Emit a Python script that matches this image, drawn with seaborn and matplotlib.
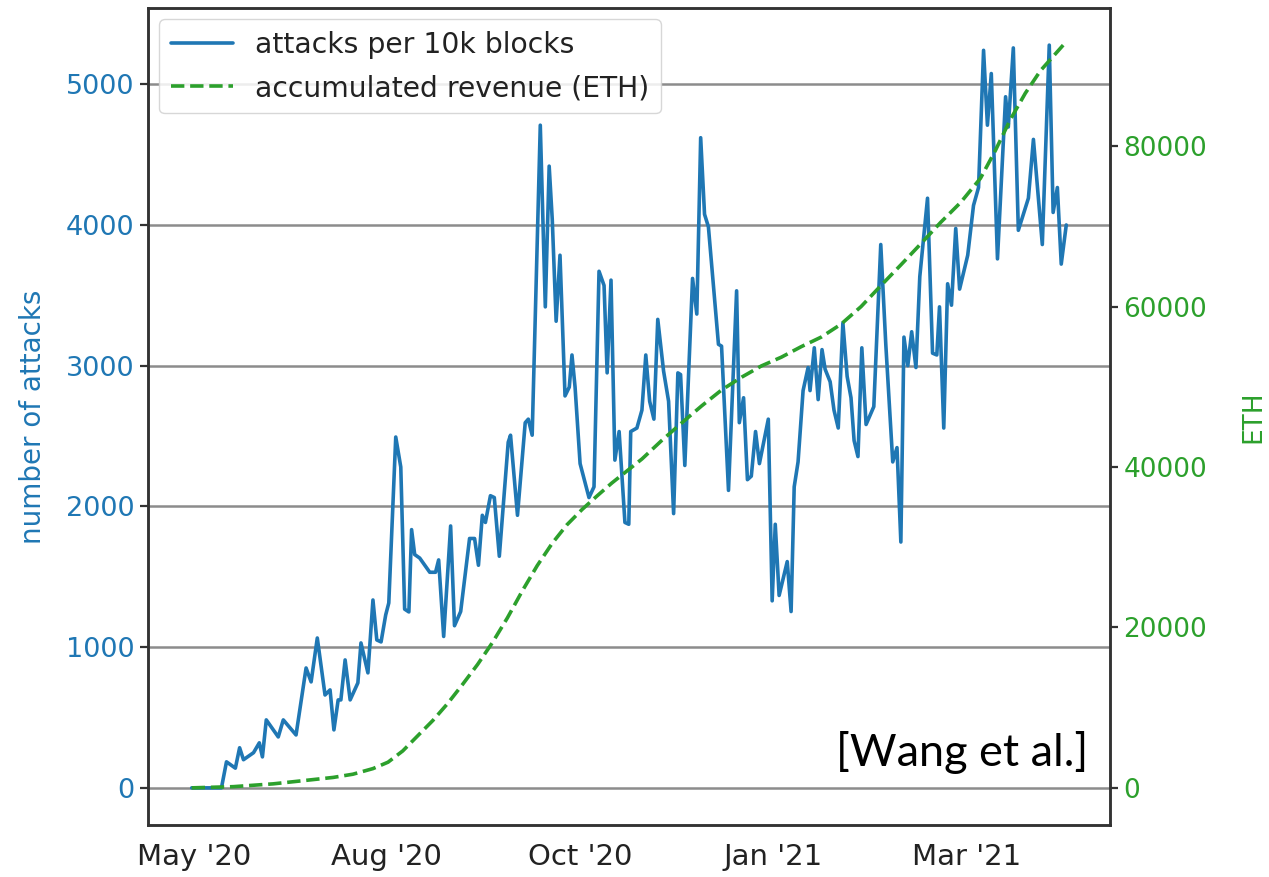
import numpy as np
import pandas as pd
import matplotlib
matplotlib.use("Agg")
import matplotlib.pyplot as plt
import seaborn as sns

# block height (millions) -> attacks per 10k blocks
attack_blocks = [
    9.995, 10.072, 10.085, 10.108, 10.119, 10.129, 10.155, 10.170, 10.178, 10.188,
    10.219, 10.232, 10.265, 10.291, 10.304, 10.320, 10.340, 10.353, 10.363, 10.374,
    10.381, 10.392, 10.405, 10.425, 10.433, 10.451, 10.464, 10.474, 10.485, 10.497,
    10.505, 10.523, 10.536, 10.546, 10.557, 10.564, 10.572, 10.585, 10.611, 10.626,
    10.634, 10.647, 10.665, 10.675, 10.691, 10.714, 10.727, 10.737, 10.747, 10.755,
    10.768, 10.778, 10.791, 10.814, 10.820, 10.838, 10.858, 10.866, 10.876, 10.897,
    10.910, 10.920, 10.928, 10.938, 10.948, 10.961, 10.972, 10.979, 10.987, 11.000,
    11.023, 11.036, 11.049, 11.062, 11.070, 11.080, 11.090, 11.101, 11.116, 11.126,
    11.131, 11.147, 11.160, 11.170, 11.180, 11.191, 11.201, 11.216, 11.229, 11.242,
    11.253, 11.260, 11.271, 11.291, 11.302, 11.312, 11.322, 11.332, 11.358, 11.366,
    11.384, 11.405, 11.412, 11.423, 11.433, 11.443, 11.454, 11.464, 11.487, 11.497,
    11.505, 11.515, 11.536, 11.546, 11.554, 11.564, 11.577, 11.590, 11.595, 11.606,
    11.616, 11.626, 11.634, 11.647, 11.657, 11.668, 11.680, 11.691, 11.701, 11.709,
    11.719, 11.729, 11.740, 11.760, 11.778, 11.791, 11.809, 11.820, 11.830, 11.838,
    11.848, 11.858, 11.869, 11.879, 11.899, 11.912, 11.923, 11.930, 11.941, 11.951,
    11.961, 11.972, 11.982, 12.003, 12.018, 12.031, 12.044, 12.054, 12.064, 12.080,
    12.101, 12.108, 12.121, 12.134, 12.160, 12.173, 12.196, 12.214, 12.224, 12.235,
    12.245, 12.258,
]
attacks = [
    0, 0, 185, 140, 285, 200, 250, 320, 220, 483,
    362, 483, 376, 852, 753, 1065, 660, 696, 412, 625,
    625, 909, 625, 746, 1030, 817, 1335, 1051, 1037, 1229,
    1314, 2493, 2280, 1270, 1250, 1835, 1658, 1633, 1532, 1532,
    1620, 1076, 1861, 1152, 1253, 1772, 1772, 1582, 1937, 1886,
    2076, 2063, 1646, 2456, 2506, 1937, 2595, 2620, 2506, 4709,
    3418, 4418, 4038, 3316, 3785, 2785, 2848, 3076, 2848, 2304,
    2063, 2139, 3671, 3570, 2949, 3608, 2329, 2532, 1886, 1873,
    2532, 2557, 2684, 3076, 2747, 2620, 3329, 2962, 2747, 1949,
    2949, 2937, 2291, 3620, 3367, 4620, 4076, 3987, 3152, 3139,
    2114, 3532, 2595, 2772, 2190, 2215, 2532, 2304, 2620, 1329,
    1873, 1367, 1608, 1253, 2139, 2316, 2823, 2987, 2823, 3127,
    2759, 3114, 2975, 2886, 2684, 2557, 3304, 2924, 2772, 2468,
    2354, 3127, 2582, 2709, 3861, 3152, 2316, 2418, 1747, 3203,
    3000, 3241, 2987, 3633, 4190, 3089, 3076, 3418, 2557, 3582,
    3430, 3975, 3544, 3785, 4139, 4266, 5241, 4709, 5076, 3759,
    4911, 4696, 5258, 3962, 4190, 4608, 3861, 5278, 4089, 4266,
    3722, 4000,
]

# accumulated revenue in ETH
revenue_blocks = [
    9.995, 10.103, 10.206, 10.284, 10.361, 10.412, 10.464, 10.503, 10.541, 10.580,
    10.619, 10.657, 10.696, 10.735, 10.773, 10.812, 10.851, 10.889, 10.928, 10.966,
    11.005, 11.044, 11.082, 11.121, 11.160, 11.211, 11.263, 11.314, 11.366, 11.418,
    11.469, 11.521, 11.572, 11.624, 11.675, 11.727, 11.778, 11.830, 11.881, 11.933,
    11.985, 12.036, 12.075, 12.113, 12.152, 12.191, 12.250,
]
revenue = [
    0, 150, 500, 900, 1300, 1700, 2400, 3200, 4600, 6500,
    8400, 10500, 12900, 15400, 18100, 21200, 24600, 27700, 30500, 32800,
    34700, 36400, 38000, 39500, 41000, 43300, 45500, 47600, 49600, 51200,
    52600, 53700, 55000, 56200, 57800, 60000, 62600, 65200, 67800, 70500,
    73000, 76000, 79500, 83300, 86600, 89400, 92600,
]

tick_blocks = [10.0, 10.5, 11.0, 11.5, 12.0]
tick_labels = ["May '20", "Aug '20", "Oct '20", "Jan '21", "Mar '21"]

blue = "#1f77b4"
green = "#2ca02c"

sns.set_theme(style="white")
plt.rcParams['font.family'] = ['DejaVu Sans']

df_a = pd.DataFrame({"block": attack_blocks, "attacks": attacks})
df_r = pd.DataFrame({"block": revenue_blocks, "revenue": revenue})

fig = plt.figure(figsize=(12.69, 8.77), dpi=100)
ax1 = fig.add_axes([0.1166, 0.0593, 0.7581, 0.9316])
sns.lineplot(data=df_a, x="block", y="attacks", ax=ax1, color=blue, lw=2.6)
ax1.set_axisbelow(True)
ax1.yaxis.grid(True, color="#8c8c8c", lw=1.8)

ax2 = ax1.twinx()
sns.lineplot(data=df_r, x="block", y="revenue", ax=ax2, color=green, lw=2.6, linestyle="--")

ax1.set_xticks(tick_blocks)
ax1.set_xticklabels(tick_labels)
ax1.set_xlabel("")
ax1.set_ylabel("number of attacks", color=blue, fontsize=20, labelpad=14)
ax2.set_ylabel("ETH", color=green, fontsize=19, labelpad=24)

ax1.tick_params(axis="x", length=0, pad=13, labelsize=21, labelcolor="#222222")
ax1.tick_params(axis="y", length=6, width=1.6, labelsize=19.5, labelcolor=blue, color="#333333")
ax2.tick_params(axis="y", length=6, width=1.6, labelsize=19, labelcolor=green, color="#333333")

for ax in (ax1, ax2):
    for sp in ax.spines.values():
        sp.set_color("#333333")
        sp.set_linewidth(1.8)

leg = ax2.legend([ax1.get_lines()[0], ax2.get_lines()[0]],
                 ["attacks per 10k blocks", "accumulated revenue (ETH)"],
                 loc="upper left", fontsize=20.3, frameon=True, framealpha=0.85,
                 edgecolor="#d0d0d0", handlelength=2.2, borderaxespad=0.4,
                 labelspacing=0.55)
for t in leg.get_texts():
    t.set_color("#222222")

ax1.text(0.977, 0.072, "[Wang et al.]", transform=ax1.transAxes, ha="right",
         va="baseline", fontsize=32.5, family=["Lato", "DejaVu Sans"], color="black")

fig.savefig("out.png", dpi=100)
